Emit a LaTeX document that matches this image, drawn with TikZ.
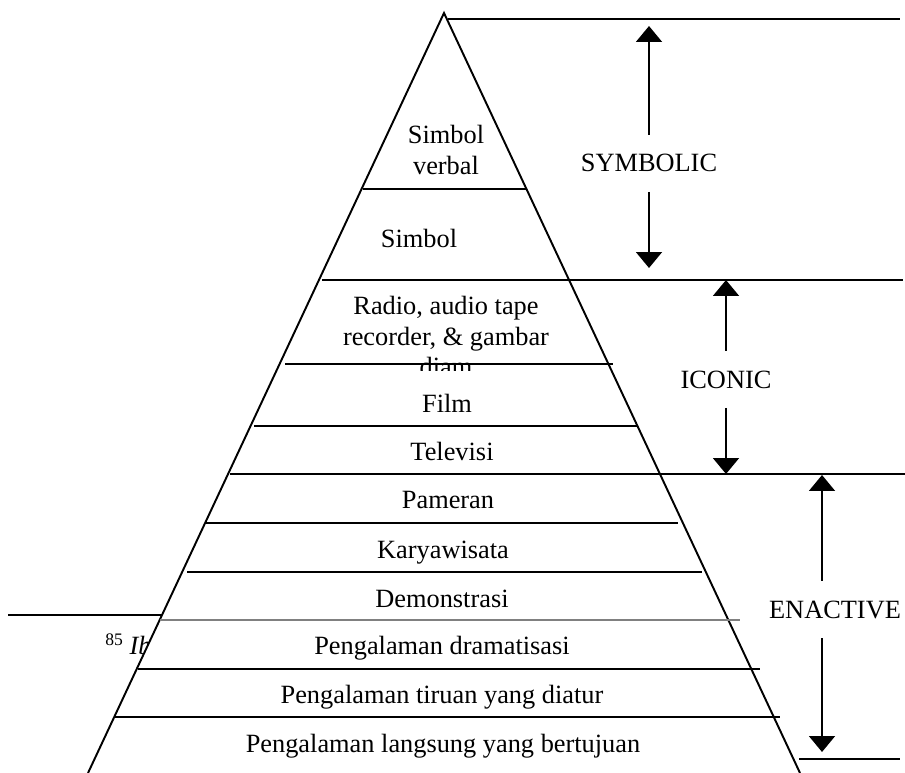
\documentclass[tikz,border=0pt]{standalone}
\usepackage{fontspec}
\setmainfont{Liberation Serif}
\usetikzlibrary{arrows.meta}
\begin{document}
\begin{tikzpicture}[x=0.02cm,y=-0.02cm,
  every node/.style={font=\fontsize{15}{17.5}\selectfont,inner sep=0pt,align=center},
  rule/.style={line width=1.1pt},
  level/.style={inner ysep=11pt},
  span/.style={line width=1.5pt,-{Triangle[length=9pt,width=14.5pt]}}]
\useasboundingbox (0,0) rectangle (905,773);
% footnote behind the pyramid
\node[anchor=base west] (note) at (105,654) {\raisebox{5pt}{\fontsize{10}{12}\selectfont 85} \textit{Ib}};
\draw[rule] (8,615) -- (162,615);
% pyramid
\fill[white] (444,13) -- (88,773) -- (800,773) -- cycle;
\draw[rule,line join=miter] (88,773) -- (444,13) -- (800,773);
% rows
\draw[rule] (448,19) -- (900,19);
\draw[rule] (363,189) -- (527,189);
\draw[rule] (322,280) -- (903,280);
\draw[rule] (285,364) -- (613,364);
\draw[rule] (254,426) -- (637,426);
\draw[rule] (230,474) -- (905,474);
\draw[rule] (206,523) -- (678,523);
\draw[rule] (187,572) -- (702,572);
\draw[gray,line width=0.8pt] (160,620) -- (740,620);
\draw[rule] (138,669) -- (760,669);
\draw[rule] (115,717) -- (780,717);
\draw[rule] (799,759) -- (900,759);
% texts
\node (verbal) at (446,150) {Simbol\\verbal};
\node[anchor=base] (visual) at (419,248) {Simbol};
\begin{scope}
\clip (290,280) rectangle (620,370);
\node (audio) at (446,336) {Radio, audio tape\\recorder, \& gambar\\diam};
\end{scope}
\node[anchor=base] (film) at (447,412) {Film};
\node[anchor=base] (tv) at (452,460) {Televisi};
\node[anchor=base] (pameran) at (448,508) {Pameran};
\node[anchor=base] (wisata) at (443,558) {Karyawisata};
\node[anchor=base] (demo) at (442,607) {Demonstrasi};
\node[anchor=base] (drama) at (442,654) {Pengalaman dramatisasi};
\node[anchor=base] (tiruan) at (442,703) {Pengalaman tiruan yang diatur};
\node[anchor=base] (langsung) at (443,752) {Pengalaman langsung yang bertujuan};
% levels
\node[level,anchor=base] (sym) at (649,172) {SYMBOLIC};
\node[level,anchor=base] (icon) at (726,388) {ICONIC};
\node[level,anchor=base] (enact) at (835,618) {ENACTIVE};
\coordinate (symtop) at (649,26);
\coordinate (symbot) at (649,268);
\coordinate (icontop) at (726,280);
\coordinate (iconbot) at (726,474);
\coordinate (enacttop) at (822,475);
\coordinate (enactbot) at (822,752);
\draw[span] (sym) -- (symtop);
\draw[span] (sym) -- (symbot);
\draw[span] (icon) -- (icontop);
\draw[span] (icon) -- (iconbot);
\draw[span] (enact.north -| enacttop) -- (enacttop);
\draw[span] (enact.south -| enactbot) -- (enactbot);
\end{tikzpicture}
\end{document}
